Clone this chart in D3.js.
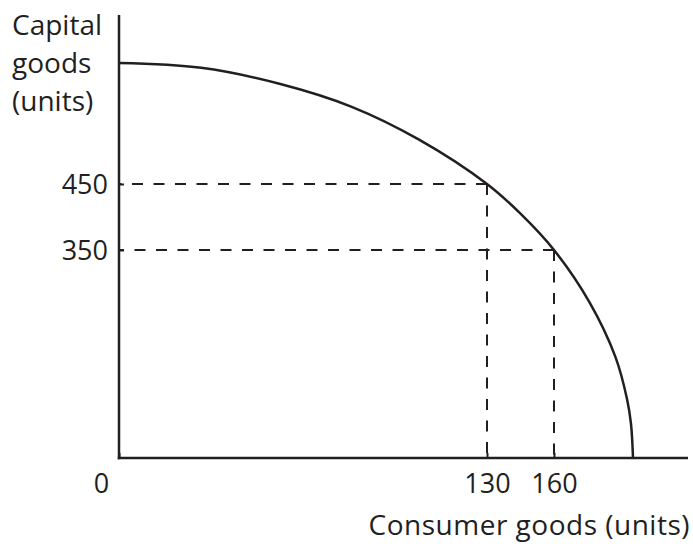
<!DOCTYPE html>
<html>
<head>
<meta charset="utf-8">
<script src="https://cdn.jsdelivr.net/npm/d3@7/dist/d3.min.js"></script>
<style>
  body { margin: 0; background: #fff; }
  text { font-family: "Open Sans", sans-serif; fill: #231f20; }
</style>
</head>
<body>
<div id="graph"></div>
<script>
// production possibility frontier, values in units
var consumer = [0, 29, 57, 82, 106, 130, 145, 160, 178, 191, 197, 199, 200];
var capital = [600, 594, 574, 546, 505, 450, 405, 350, 262, 171, 99, 57, 0];

// the two marked combinations
var markX = [130, 160];
var markY = [450, 350];

var xTicks = [0, 130, 160];
var yTicks = [450, 350];

var width = 693;
var height = 552;
var ink = "#231f20";
var fontSize = 27;

var originX = 119;
var originY = 458;

var svg = d3.select("#graph").
append("svg").
attr("width", width).
attr("height", height);

// the figure is schematic: tick spacing is not proportional, so the scales are piecewise
var xScale = d3.scaleLinear().
domain([0, 130, 160, 200]).
range([originX, 487, 554, 633]);

var yScale = d3.scaleLinear().
domain([0, 350, 450, 600]).
range([originY, 250, 184, 63]);

var data = consumer.map(function (c, i) {return { c: c, k: capital[i] };});
var marks = markX.map(function (c, i) {return { c: c, k: markY[i] };});

// dashed guide lines, drawn from the point back to each axis
svg.selectAll(".guide-h").
data(marks).
enter().
append("line").
attr("class", "guide-h").
attr("x1", function (d) {return xScale(d.c);}).
attr("y1", function (d) {return yScale(d.k);}).
attr("x2", xScale(0)).
attr("y2", function (d) {return yScale(d.k);}).
style("stroke", ink).
style("stroke-width", 2).
style("stroke-dasharray", "11,10.5");

svg.selectAll(".guide-v").
data(marks).
enter().
append("line").
attr("class", "guide-v").
attr("x1", function (d) {return xScale(d.c);}).
attr("y1", function (d) {return yScale(d.k);}).
attr("x2", function (d) {return xScale(d.c);}).
attr("y2", yScale(0)).
style("stroke", ink).
style("stroke-width", 2).
style("stroke-dasharray", "11,10.5");

// axes: tick labels through d3 axes, plain lines for the frame
var xAxis = d3.axisBottom(xScale).
tickValues(xTicks).
tickSize(-5).
tickPadding(16).
tickFormat(d3.format("d"));

var yAxis = d3.axisLeft(yScale).
tickValues(yTicks).
tickSize(-5).
tickPadding(11).
tickFormat(d3.format("d"));

var gx = svg.append("g").
attr("transform", "translate(0," + originY + ")").
call(xAxis);

var gy = svg.append("g").
attr("transform", "translate(" + originX + ",0)").
call(yAxis);

[gx, gy].forEach(function (g) {
  g.select(".domain").remove();
  g.selectAll("line").style("stroke", ink).style("stroke-width", 2);
  g.selectAll("text").
  style("font-family", "'Open Sans', sans-serif").
  style("font-size", fontSize + "px").
  style("fill", ink);
});

gy.selectAll("text").attr("dy", "0.36em");

// origin label sits left of the corner
gx.selectAll(".tick").
filter(function (d) {return d === 0;}).
select("text").
attr("dx", -18);

svg.append("line").
attr("x1", originX).
attr("y1", 15).
attr("x2", originX).
attr("y2", originY + 1.25).
style("stroke", ink).
style("stroke-width", 2.5);

svg.append("line").
attr("x1", originX - 1.25).
attr("y1", originY).
attr("x2", 688).
attr("y2", originY).
style("stroke", ink).
style("stroke-width", 2.5);

// the frontier
var line = d3.line().
x(function (d) {return xScale(d.c);}).
y(function (d) {return yScale(d.k);}).
curve(d3.curveCatmullRom.alpha(0.5));

svg.append("path").
datum(data).
attr("d", line).
style("fill", "none").
style("stroke", ink).
style("stroke-width", 2.5);

// axis titles
var yTitle = svg.append("text").
attr("x", 12).
attr("y", 35).
style("font-size", "28px");

["Capital", "goods", "(units)"].forEach(function (t, i) {
  yTitle.append("tspan").
  attr("x", 12).
  attr("dy", i === 0 ? 0 : 38).
  text(t);
});

svg.append("text").
attr("x", 690).
attr("y", 535).
style("text-anchor", "end").
style("font-size", "28px").
style("letter-spacing", "0.5px").
text("Consumer goods (units)");
</script>
</body>
</html>
